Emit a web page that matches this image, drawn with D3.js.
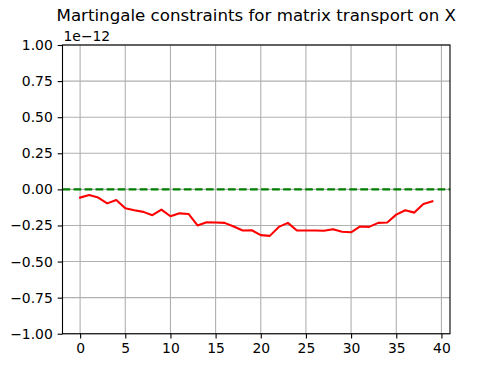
<!DOCTYPE html>
<html><head><meta charset="utf-8">
<script src="https://cdn.jsdelivr.net/npm/d3@7"></script>
<style>body{margin:0;background:#fff}svg{display:block}text{font-family:"DejaVu Sans",sans-serif}</style>
</head><body><div id="chart"></div>
<script>
const title = "Martingale constraints for matrix transport on X";
const offsetLabel = "1e\u221212";
const xIndex = d3.range(40);
// values in units of 1e-12
const constraintValues = [-0.057,-0.039,-0.057,-0.097,-0.074,-0.131,-0.145,-0.156,-0.179,-0.140,
  -0.186,-0.166,-0.170,-0.250,-0.228,-0.230,-0.232,-0.257,-0.285,-0.283,
  -0.317,-0.322,-0.260,-0.232,-0.285,-0.285,-0.285,-0.287,-0.276,-0.294,
  -0.297,-0.257,-0.260,-0.232,-0.230,-0.175,-0.145,-0.161,-0.101,-0.083];
const zeroLine = [0, 0];
const xTicks = [0,5,10,15,20,25,30,35,40];
const yTicks = [-1,-0.75,-0.5,-0.25,0,0.25,0.5,0.75,1];

const W=500,H=375, L=62.5, R=450, T=45, B=333.75;
const svg=d3.select("#chart").append("svg").attr("width",W).attr("height",H);
const x=d3.scaleLinear().domain([-1.95,40.95]).range([L,R]);
const y=d3.scaleLinear().domain([-1,1]).range([B,T]);
const fmtY=v=>d3.format(".2f")(v).replace("-","\u2212");

// grid
const g=svg.append("g");
g.selectAll(".gx").data(xTicks).join("line").attr("x1",d=>x(d)).attr("x2",d=>x(d)).attr("y1",T).attr("y2",B)
 .attr("stroke","#b0b0b0").attr("stroke-width",1.1);
g.selectAll(".gy").data(yTicks).join("line").attr("y1",d=>y(d)).attr("y2",d=>y(d)).attr("x1",L).attr("x2",R)
 .attr("stroke","#b0b0b0").attr("stroke-width",1.1);

// zero line
svg.append("path").datum(zeroLine).attr("fill","none").attr("stroke","#008000").attr("stroke-width",2.08)
 .attr("stroke-dasharray","7.7,3.33")
 .attr("d",d3.line().x((d,i)=>x(i===0?-1.95:40.95)).y(d=>y(d)));

// data line
svg.append("path").datum(constraintValues).attr("fill","none").attr("stroke","#ff0000").attr("stroke-width",2.08)
 .attr("stroke-linejoin","round").attr("stroke-linecap","square")
 .attr("d",d3.line().x((d,i)=>x(xIndex[i])).y(d=>y(d)));

// axes
const xa=svg.append("g").attr("transform",`translate(0,${B})`).call(d3.axisBottom(x).tickValues(xTicks).tickSizeInner(4.86).tickSizeOuter(0).tickPadding(4.86));
const ya=svg.append("g").attr("transform",`translate(${L},0)`).call(d3.axisLeft(y).tickValues(yTicks).tickFormat(fmtY).tickSizeInner(4.86).tickSizeOuter(0).tickPadding(4.86));
[xa,ya].forEach(a=>{a.select(".domain").remove();a.selectAll("line").attr("stroke","#000").attr("stroke-width",1.1);
 a.selectAll("text").attr("font-family","DejaVu Sans").attr("font-size",13.9).attr("fill","#000");});
// spines
svg.append("rect").attr("x",L).attr("y",T).attr("width",R-L).attr("height",B-T).attr("fill","none").attr("stroke","#000").attr("stroke-width",1.1);

svg.append("text").attr("x",L+1).attr("y",40.5).attr("font-size",13.9).text(offsetLabel);
svg.append("text").attr("x",(L+R)/2).attr("y",21).attr("text-anchor","middle").attr("font-size",16.67).text(title);
</script></body></html>
